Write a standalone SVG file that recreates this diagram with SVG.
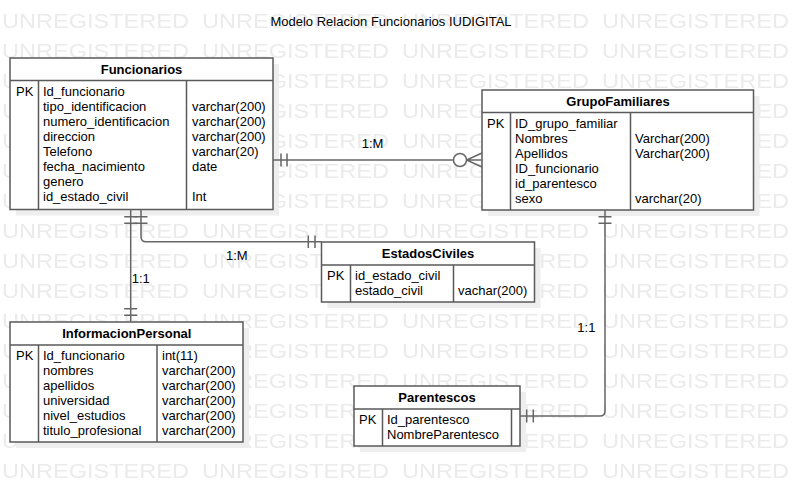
<svg xmlns="http://www.w3.org/2000/svg" width="793" height="486" viewBox="0 0 793 486">
<style>
text{font-family:"Liberation Sans",Arial,sans-serif;font-size:13px;fill:#000}
.h{font-weight:bold;text-anchor:middle}
.wm{font-size:21px;fill:#ebebeb}
.box{fill:#fff;stroke:#5a5a5a;stroke-width:1.5}
.sh{fill:#eeeeee}
.ln{fill:none;stroke:#5a5a5a;stroke-width:1.5}
.c{fill:none;stroke:#666;stroke-width:1.5}
</style>
<defs>
<pattern id="wmp" x="0" y="0" width="200" height="30" patternUnits="userSpaceOnUse">
<text class="wm" x="2" y="28" textLength="187" lengthAdjust="spacingAndGlyphs">UNREGISTERED</text>
</pattern>
</defs>
<rect width="793" height="486" fill="#fff"/>
<rect width="793" height="486" fill="url(#wmp)"/>
<text x="391" y="26" style="text-anchor:middle">Modelo Relacion Funcionarios IUDIGITAL</text>

<g id="funcionarios">
<rect class="sh" x="16" y="64" width="263" height="151.5"/>
<rect class="box" x="10" y="58" width="263" height="151.5"/>
<path class="ln" d="M10,80.5H273M38.5,80.5V209.5M186.5,80.5V209.5"/>
<text class="h" x="141.5" y="73.5">Funcionarios</text>
<text x="16" y="95.5">PK</text>
<text x="43" y="95.5">Id_funcionario</text>
<text x="43" y="110.5">tipo_identificacion</text>
<text x="43" y="125.5">numero_identificacion</text>
<text x="43" y="140.5">direccion</text>
<text x="43" y="155.5">Telefono</text>
<text x="43" y="170.5">fecha_nacimiento</text>
<text x="43" y="185.5">genero</text>
<text x="43" y="200.5">id_estado_civil</text>
<text x="192" y="110.5">varchar(200)</text>
<text x="192" y="125.5">varchar(200)</text>
<text x="192" y="140.5">varchar(200)</text>
<text x="192" y="155.5">varchar(20)</text>
<text x="192" y="170.5">date</text>
<text x="192" y="200.5">Int</text>
</g>

<g id="grupofamiliares">
<rect class="sh" x="488" y="96" width="271.5" height="120"/>
<rect class="box" x="482" y="90" width="271.5" height="120"/>
<path class="ln" d="M482,112.5H753.5M510.5,112.5V210M630.5,112.5V210"/>
<text class="h" x="618" y="106">GrupoFamiliares</text>
<text x="487" y="128">PK</text>
<text x="515" y="128">ID_grupo_familiar</text>
<text x="515" y="143">Nombres</text>
<text x="515" y="158">Apellidos</text>
<text x="515" y="173">ID_funcionario</text>
<text x="515" y="188">id_parentesco</text>
<text x="515" y="203">sexo</text>
<text x="635" y="143">Varchar(200)</text>
<text x="635" y="158">Varchar(200)</text>
<text x="635" y="203">varchar(20)</text>
</g>

<g id="estadosciviles">
<rect class="sh" x="327.5" y="248" width="213" height="60"/>
<rect class="box" x="321.5" y="242" width="213" height="60"/>
<path class="ln" d="M321.5,265H534.5M350.5,265V302M453.5,265V302"/>
<text class="h" x="428" y="258">EstadosCiviles</text>
<text x="327" y="280">PK</text>
<text x="355" y="280">id_estado_civil</text>
<text x="355" y="295">estado_civil</text>
<text x="458" y="295">vachar(200)</text>
</g>

<g id="informacionpersonal">
<rect class="sh" x="16" y="328" width="233" height="120"/>
<rect class="box" x="10" y="322" width="233" height="120"/>
<path class="ln" d="M10,345H243M38.5,345V442M157,345V442"/>
<text class="h" x="126.8" y="338">InformacionPersonal</text>
<text x="16" y="360">PK</text>
<text x="43" y="360">Id_funcionario</text>
<text x="43" y="375">nombres</text>
<text x="43" y="390">apellidos</text>
<text x="43" y="405">universidad</text>
<text x="43" y="420">nivel_estudios</text>
<text x="43" y="435">titulo_profesional</text>
<text x="162" y="360">int(11)</text>
<text x="162" y="375">varchar(200)</text>
<text x="162" y="390">varchar(200)</text>
<text x="162" y="405">varchar(200)</text>
<text x="162" y="420">varchar(200)</text>
<text x="162" y="435">varchar(200)</text>
</g>

<g id="parentescos">
<rect class="sh" x="360" y="392" width="166" height="60"/>
<rect class="box" x="354" y="386" width="166" height="60"/>
<path class="ln" d="M354,409H520M382.5,409V446M511.5,409V446"/>
<text class="h" x="437" y="402">Parentescos</text>
<text x="359" y="424">PK</text>
<text x="387" y="424">Id_parentesco</text>
<text x="387" y="439">NombreParentesco</text>
</g>

<g id="connectors">
<path class="c" d="M273,160H453.5M281,153.5V166.5M287,153.5V166.5M482,153L466.5,160L482,167M466.5,160H482"/>
<circle cx="460" cy="160" r="6.5" fill="#fff" stroke="#666" stroke-width="1.5"/>
<text x="361.7" y="148">1:M</text>

<path class="c" d="M141,209.5V236.7Q141,241.7 146,241.7H321.5M134.5,216.7H147.5M134.5,223.3H147.5M308.3,235.5V248M315,235.5V248"/>
<text x="226" y="260">1:M</text>

<path class="c" d="M130.7,209.5V322M124.2,216.7H137.2M124.2,223.3H137.2M124.2,308.7H137.2M124.2,315.3H137.2"/>
<text x="131.7" y="282.7">1:1</text>

<path class="c" d="M605,210V411Q605,416 600,416H520M598.5,216.7H611.5M598.5,223.3H611.5M526.7,409.5V422.5M533.3,409.5V422.5"/>
<text x="577.3" y="331.7">1:1</text>
</g>
</svg>
